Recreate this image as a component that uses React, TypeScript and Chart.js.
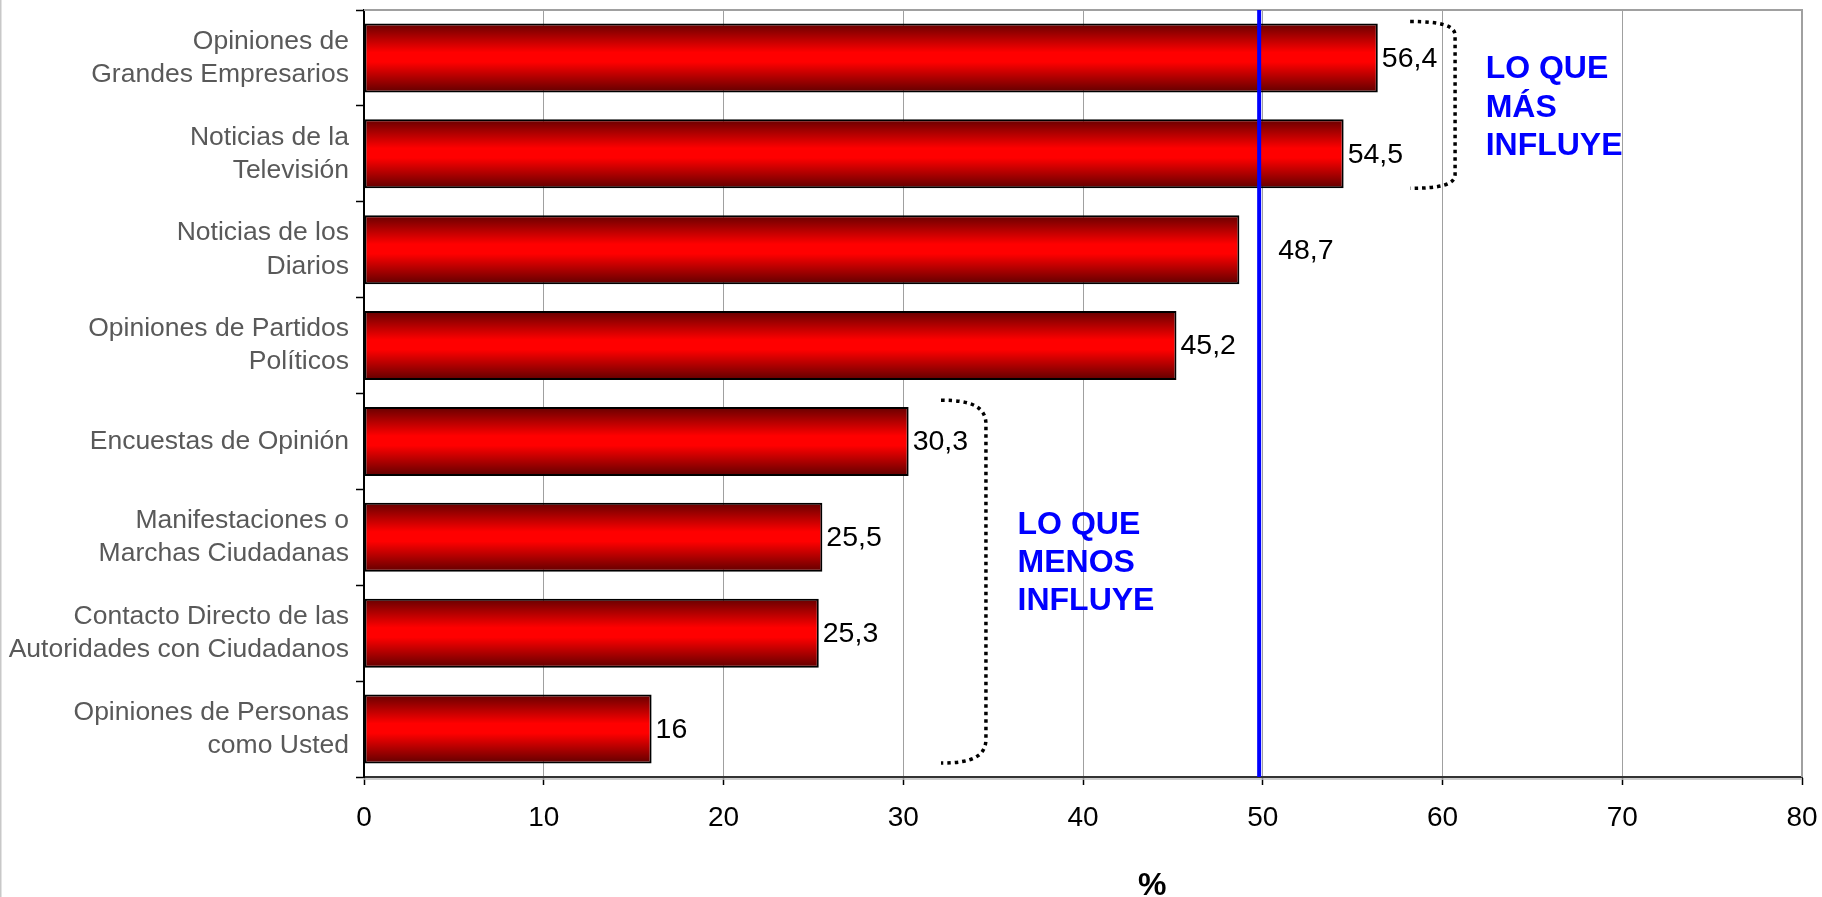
import React, { useEffect, useRef } from 'react';
import { Chart, registerables } from 'chart.js';

Chart.register(...registerables);

// ---------- data ----------
const CATEGORIES: string[][] = [
  ['Opiniones de', 'Grandes Empresarios'],
  ['Noticias de la', 'Televisión'],
  ['Noticias de los', 'Diarios'],
  ['Opiniones de Partidos', 'Políticos'],
  ['Encuestas de Opinión'],
  ['Manifestaciones o', 'Marchas Ciudadanas'],
  ['Contacto Directo de las', 'Autoridades con Ciudadanos'],
  ['Opiniones de Personas', 'como Usted'],
];
const VALUES: number[] = [56.4, 54.5, 48.7, 45.2, 30.3, 25.5, 25.3, 16];
const X_MIN = 0;
const X_MAX = 80;
const X_STEP = 10;
const REFERENCE_LINE = 49.8;
const AXIS_TITLE = '%';
const TOP_GROUP_TEXT: string[] = ['LO QUE', 'MÁS', 'INFLUYE'];
const BOTTOM_GROUP_TEXT: string[] = ['LO QUE', 'MENOS', 'INFLUYE'];
const TOP_GROUP = [0, 1];
const BOTTOM_GROUP = [4, 7];

const FONT = '"Liberation Sans", Arial, Helvetica, sans-serif';
const BAR_PCT = 0.72;

function fmt(v: number): string {
  return String(v).replace('.', ',');
}

function drawBracket(ctx: CanvasRenderingContext2D, xL: number, xR: number, yT: number, yB: number, r: number) {
  const w = xR - xL;
  ctx.beginPath();
  ctx.moveTo(xL, yT);
  ctx.bezierCurveTo(xL + w * 0.7, yT, xR, yT + r * 0.3, xR, yT + r);
  ctx.lineTo(xR, yB - r);
  ctx.bezierCurveTo(xR, yB - r * 0.3, xL + w * 0.7, yB, xL, yB);
  ctx.stroke();
}

const decorPlugin = {
  id: 'decor',
  beforeDraw(chart: any) {
    const { ctx, width, height } = chart;
    ctx.save();
    ctx.fillStyle = '#ffffff';
    ctx.fillRect(0, 0, width, height);
    ctx.strokeStyle = '#c8c8c8';
    ctx.lineWidth = 1.5;
    ctx.beginPath();
    ctx.moveTo(0.75, 0);
    ctx.lineTo(0.75, height);
    ctx.stroke();
    ctx.restore();
  },
  beforeDatasetsDraw(chart: any) {
    const { ctx, chartArea } = chart;
    ctx.save();
    ctx.strokeStyle = '#a0a0a0';
    ctx.lineWidth = 2;
    ctx.beginPath();
    ctx.moveTo(chartArea.left, chartArea.top);
    ctx.lineTo(chartArea.right, chartArea.top);
    ctx.lineTo(chartArea.right, chartArea.bottom);
    ctx.stroke();
    // light shadow line under the value axis
    ctx.strokeStyle = '#bdbdbd';
    ctx.lineWidth = 1.5;
    ctx.beginPath();
    ctx.moveTo(chartArea.left, chartArea.bottom + 2);
    ctx.lineTo(chartArea.right, chartArea.bottom + 2);
    ctx.stroke();
    ctx.restore();
  },
  afterDatasetsDraw(chart: any) {
    const { ctx, chartArea } = chart;
    const xs = chart.scales.x;
    const ys = chart.scales.y;
    const catH = ys.height / CATEGORIES.length;
    const lineX = xs.getPixelForValue(REFERENCE_LINE);

    ctx.save();
    // reference line
    ctx.strokeStyle = '#0000ff';
    ctx.lineWidth = 4;
    ctx.beginPath();
    ctx.moveTo(lineX, chartArea.top);
    ctx.lineTo(lineX, chartArea.bottom);
    ctx.stroke();

    // data labels
    ctx.font = `28.5px ${FONT}`;
    ctx.fillStyle = '#000000';
    ctx.textAlign = 'left';
    ctx.textBaseline = 'middle';
    const meta = chart.getDatasetMeta(0);
    meta.data.forEach((bar: any, i: number) => {
      const txt = fmt(VALUES[i]);
      const w = ctx.measureText(txt).width;
      let x = bar.x + 4;
      if (x < lineX + 4 && x + w > lineX - 4) x = lineX + 19;
      ctx.fillText(txt, x, bar.y + 1);
    });

    // brackets
    ctx.strokeStyle = '#000000';
    ctx.lineWidth = 3.5;
    ctx.setLineDash([3.5, 4]);
    drawBracket(
      ctx,
      xs.getPixelForValue(58.2),
      xs.getPixelForValue(60.7),
      ys.getPixelForValue(TOP_GROUP[0]) - catH * 0.38,
      ys.getPixelForValue(TOP_GROUP[1]) + catH * 0.36,
      14
    );
    drawBracket(
      ctx,
      xs.getPixelForValue(32.1),
      xs.getPixelForValue(34.6),
      ys.getPixelForValue(BOTTOM_GROUP[0]) - catH * 0.43,
      ys.getPixelForValue(BOTTOM_GROUP[1]) + catH * 0.355,
      24
    );
    ctx.setLineDash([]);

    // group texts
    ctx.font = `bold 32px ${FONT}`;
    ctx.fillStyle = '#0000ff';
    ctx.textBaseline = 'alphabetic';
    const tx1 = xs.getPixelForValue(62.4);
    const ty1 = ys.getPixelForValue(TOP_GROUP[0]) + 20.5;
    TOP_GROUP_TEXT.forEach((t, i) => ctx.fillText(t, tx1, ty1 + i * 38.3));
    const tx2 = xs.getPixelForValue(36.36);
    const ty2 = ys.getPixelForValue(5) - 3.5;
    BOTTOM_GROUP_TEXT.forEach((t, i) => ctx.fillText(t, tx2, ty2 + i * 38.2));

    // axis title
    ctx.font = `bold 32px ${FONT}`;
    ctx.fillStyle = '#000000';
    ctx.textAlign = 'center';
    ctx.fillText(AXIS_TITLE, xs.getPixelForValue(43.85), chart.height - 2);
    ctx.restore();
  },
};

export default function App() {
  const ref = useRef<HTMLCanvasElement | null>(null);

  useEffect(() => {
    if (!ref.current) return;
    const chart = new Chart(ref.current, {
      type: 'bar',
      data: {
        labels: CATEGORIES,
        datasets: [
          {
            data: VALUES,
            borderColor: '#000000',
            borderWidth: 2,
            borderSkipped: false,
            barPercentage: BAR_PCT,
            categoryPercentage: 1,
            backgroundColor: (c: any) => {
              const chart = c.chart;
              if (!chart.chartArea || c.type !== 'data') return '#ff0000';
              const ys = chart.scales.y;
              const yc = ys.getPixelForValue(c.dataIndex);
              const h = ((ys.height / CATEGORIES.length) * BAR_PCT) / 2;
              const g = chart.ctx.createLinearGradient(0, yc - h, 0, yc + h);
              g.addColorStop(0, '#660000');
              g.addColorStop(0.42, '#ff0000');
              g.addColorStop(0.56, '#ff0000');
              g.addColorStop(1, '#600000');
              return g;
            },
          },
        ],
      },
      options: {
        indexAxis: 'y',
        responsive: false,
        animation: false,
        devicePixelRatio: 1,
        layout: { padding: { top: 10, right: 20, left: 0, bottom: 0 } },
        plugins: {
          legend: { display: false },
          tooltip: { enabled: false },
          title: { display: false },
        },
        scales: {
          x: {
            type: 'linear',
            min: X_MIN,
            max: X_MAX,
            ticks: {
              stepSize: X_STEP,
              color: '#000000',
              font: { family: FONT, size: 28 },
              padding: 16,
              maxRotation: 0,
            },
            grid: {
              color: '#a0a0a0',
              lineWidth: 1,
              tickColor: '#000000',
              tickLength: 8,
              tickWidth: 1.5,
            },
            border: { display: true, color: '#333333', width: 2 },
            afterFit: (s: any) => {
              s.height = 120;
              s.paddingLeft = 0;
              s.paddingRight = 0;
            },
          },
          y: {
            type: 'category',
            offset: true,
            ticks: {
              color: '#595959',
              font: { family: FONT, size: 26.5, lineHeight: 1.25 },
              padding: 7,
              autoSkip: false,
            },
            grid: {
              offset: true,
              drawOnChartArea: false,
              drawTicks: true,
              tickLength: 8,
              tickColor: '#000000',
              tickWidth: 1.5,
            },
            border: { display: true, color: '#000000', width: 2 },
            afterFit: (s: any) => {
              s.width = 364;
              s.paddingTop = 0;
              s.paddingBottom = 0;
            },
          },
        },
      },
      plugins: [decorPlugin],
    } as any);
    return () => chart.destroy();
  }, []);

  return (
    <div style={{ position: 'fixed', left: 0, top: 0, width: 1822, height: 897, background: '#fff' }}>
      <canvas ref={ref} width={1822} height={897} style={{ display: 'block', width: 1822, height: 897 }} />
    </div>
  );
}
